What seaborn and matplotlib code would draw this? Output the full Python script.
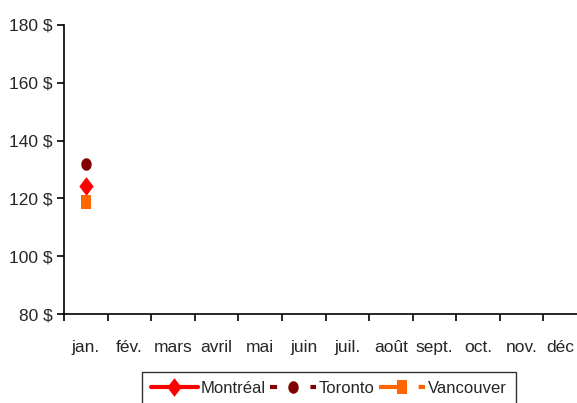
import numpy as np
import pandas as pd
import matplotlib
matplotlib.use("Agg")
import matplotlib.pyplot as plt
import matplotlib.transforms as mtransforms
from matplotlib.path import Path
import seaborn as sns
from matplotlib.ticker import FixedLocator, FuncFormatter

months = ["jan.", "fév.", "mars", "avril", "mai", "juin", "juil.", "août", "sept.", "oct.", "nov.", "déc"]
montreal = [124.4] + [np.nan] * 11
toronto = [132.0] + [np.nan] * 11
vancouver = [118.8] + [np.nan] * 11
y_ticks = [80, 100, 120, 140, 160, 180]

sns.set_style("white")
plt.rcParams['font.family'] = ['Liberation Sans', 'DejaVu Sans']


def stretched(kind, wr):
    # markers in the reference are a bit taller than wide
    if kind == "o":
        t = np.linspace(0, 2 * np.pi, 60)
        verts = np.column_stack([wr * np.cos(t), np.sin(t)])
    elif kind == "D":
        verts = np.array([[0, 1], [wr, 0], [0, -1], [-wr, 0], [0, 1]])
    else:
        verts = np.array([[-wr, -1], [wr, -1], [wr, 1], [-wr, 1], [-wr, -1]])
    return Path(verts, closed=True)


df = pd.DataFrame({"mois": np.arange(len(months)), "Montréal": montreal,
                   "Toronto": toronto, "Vancouver": vancouver})

fig = plt.figure(figsize=(5.77, 4.03), dpi=100)
ax = fig.add_axes([64 / 577, 1 - 314 / 403, 523 / 577, 289 / 403])

styles = {
    "Montréal": dict(color="#FF0000", marker=stretched("D", 0.76), markersize=13.5,
                     linewidth=3, linestyle="-"),
    "Toronto": dict(color="#800000", marker=stretched("o", 0.83), markersize=9,
                    linewidth=3, linestyle=(0, (1.7, 8.0))),
    "Vancouver": dict(color="#FF6600", marker=stretched("s", 0.72), markersize=10,
                      linewidth=3, linestyle=(0, (6.5, 3.0))),
}
for city, st in styles.items():
    sns.lineplot(data=df, x="mois", y=city, ax=ax, label=city,
                 markeredgewidth=0, **st)

ax.set_xlim(-0.5, len(months) - 0.5)
ax.set_ylim(80, 180)
ax.set_yticks(y_ticks)
ax.yaxis.set_major_formatter(FuncFormatter(lambda v, p: f"{int(v)} $"))
ax.xaxis.set_major_locator(FixedLocator(np.arange(-0.5, len(months), 1.0)))
ax.xaxis.set_major_formatter(FuncFormatter(lambda v, p: ""))
ax.xaxis.set_minor_locator(FixedLocator(np.arange(len(months))))
ax.set_xticklabels(months, minor=True)
ax.tick_params(axis="x", which="minor", bottom=True, length=0, pad=19, labelsize=12.5)
ax.tick_params(axis="x", which="major", bottom=True, length=5, width=1.2,
               direction="out", color="black")
ax.tick_params(axis="y", left=True, length=5, width=1.2, direction="out",
               color="black", labelsize=12.5, pad=3)
# last label sits on the figure edge, nudge it inward a little
lab = ax.get_xticklabels(minor=True)[-1]
lab.set_transform(lab.get_transform() + mtransforms.ScaledTranslation(-5 / 100, 0, fig.dpi_scale_trans))
ax.set_xlabel("")
ax.set_ylabel("")
for s in ["top", "right"]:
    ax.spines[s].set_visible(False)
for s in ["left", "bottom"]:
    ax.spines[s].set_color("black")
    ax.spines[s].set_linewidth(1.2)

ax.legend_.remove()
h, l = ax.get_legend_handles_labels()
leg = fig.legend(h, l, loc="upper center", bbox_to_anchor=(329 / 577, 1 - 372 / 403),
                 ncol=3, frameon=True, fancybox=False, handlelength=2.8,
                 columnspacing=0.25, handletextpad=0.15, borderpad=0.55,
                 fontsize=12, borderaxespad=0)
leg.get_frame().set_edgecolor("black")
leg.get_frame().set_linewidth(1.0)

fig.savefig("out.png", dpi=100)
